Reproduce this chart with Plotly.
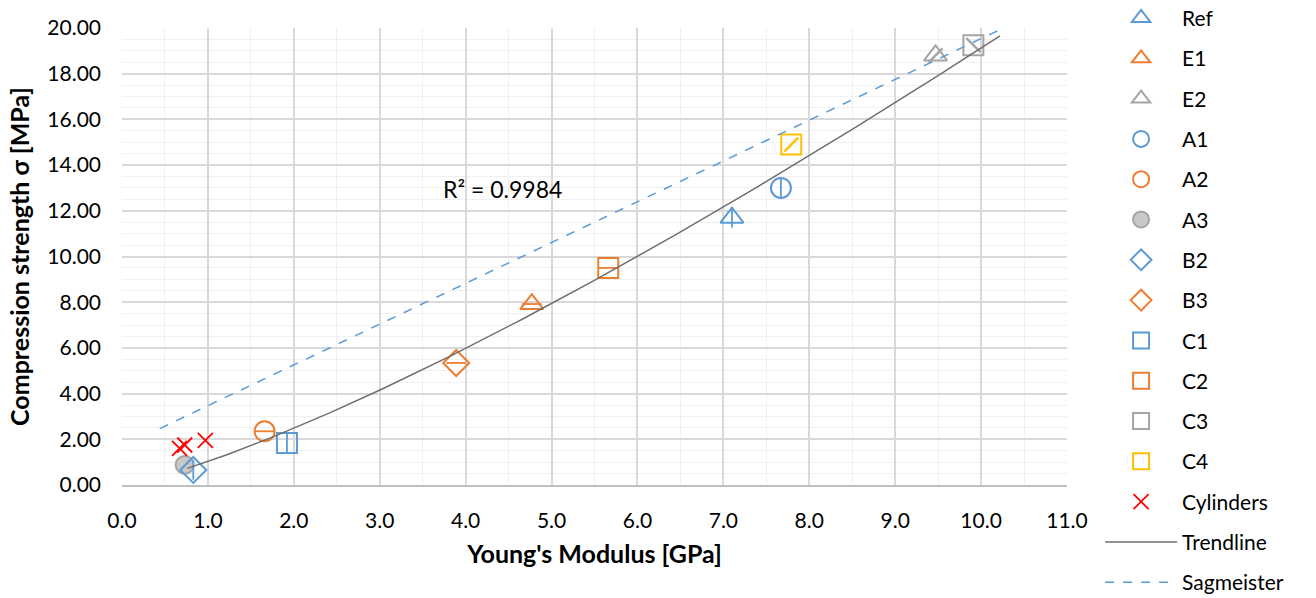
import numpy as np
import plotly.graph_objects as go

# Specimen results: Young's modulus [GPa] vs compression strength [MPa]
series_names = ["Ref", "E1", "E2", "A1", "A2", "A3", "B2", "B3", "C1", "C2", "C3", "C4"]
modulus_gpa = [7.10, 4.77, 9.47, 7.67, 1.66, 0.73, 0.83, 3.89, 1.92, 5.66, 9.91, 7.79]
strength_mpa = [11.70, 7.92, 18.80, 13.00, 2.35, 0.88, 0.66, 5.34, 1.84, 9.50, 19.25, 14.90]

cyl_modulus = [0.67, 0.73, 0.97]
cyl_strength = [1.60, 1.75, 1.95]

# Sagmeister reference relation (end points)
sag_modulus = [0.44, 10.26]
sag_strength = [2.47, 20.0]

# Trendline extent
trend_range = [0.76, 10.22]
r2_label = "R² = 0.9984"

BLUE = "#5B9BD5"
ORANGE = "#ED7D31"
GRAY = "#A5A5A5"
GOLD = "#FFC000"
RED = "#FF0000"

# outer symbol, colour, inner stroke symbol (None = none), filled
styles = {
    "Ref": ("triangle-up-open", BLUE, "line-ns", False),
    "E1": ("triangle-up-open", ORANGE, "line-ew", False),
    "E2": ("triangle-up-open", GRAY, "line-ne", False),
    "A1": ("circle-open", BLUE, "line-ns", False),
    "A2": ("circle-open", ORANGE, "line-ew", False),
    "A3": ("circle", GRAY, None, True),
    "B2": ("diamond-open", BLUE, "line-ns", False),
    "B3": ("diamond-open", ORANGE, "line-ew", False),
    "C1": ("square-open", BLUE, "line-ns", False),
    "C2": ("square-open", ORANGE, "line-ew", False),
    "C3": ("square-open", GRAY, "line-nw", False),
    "C4": ("square-open", GOLD, "line-ne", False),
}

FONT = "Lato"
fig = go.Figure()

for name, xv, yv in zip(series_names, modulus_gpa, strength_mpa):
    sym, col, inner, filled = styles[name]
    marker = dict(symbol=sym, size=20, color=col, line=dict(color=col, width=2))
    if filled:
        marker = dict(symbol=sym, size=18, color="#C8C8C8", line=dict(color=GRAY, width=2))
    fig.add_trace(go.Scatter(x=[xv], y=[yv], mode="markers", name=name,
                             legendgroup=name, marker=marker))
    if inner:
        fig.add_trace(go.Scatter(x=[xv], y=[yv], mode="markers", showlegend=False,
                                 legendgroup=name, hoverinfo="skip",
                                 marker=dict(symbol=inner, size=14, color=col,
                                             line=dict(color=col, width=2.5 if inner in ("line-ne", "line-nw") else 1.8))))

fig.add_trace(go.Scatter(x=cyl_modulus, y=cyl_strength, mode="markers", name="Cylinders",
                         legendgroup="Cylinders",
                         marker=dict(symbol="x-thin-open", size=15, color=RED,
                                     line=dict(color=RED, width=1.8))))

# Power-law trendline fitted to the specimen results
b, log_a = np.polyfit(np.log(modulus_gpa), np.log(strength_mpa), 1)
xt = np.linspace(trend_range[0], trend_range[1], 200)
yt = np.exp(log_a) * xt ** b
fig.add_trace(go.Scatter(x=xt, y=yt, mode="lines", name="Trendline", legendgroup="Trendline",
                         line=dict(color="#6E6E6E", width=1.5)))

fig.add_trace(go.Scatter(x=sag_modulus, y=sag_strength, mode="lines", name="Sagmeister",
                         legendgroup="Sagmeister",
                         line=dict(color=BLUE, width=1.5, dash="dash")))

fig.add_annotation(x=4.43, y=12.95, text=r2_label, showarrow=False,
                   font=dict(family=FONT, size=23, color="#000000"))

fig.update_layout(
    width=1316, height=598,
    margin=dict(l=122, r=249, t=28, b=113, autoexpand=False),
    paper_bgcolor="white", plot_bgcolor="white",
    font=dict(family=FONT, size=21, color="#000000"),
    legend=dict(x=1.035, y=1.066, xanchor="left", yanchor="top",
                tracegroupgap=10, font=dict(family=FONT, size=21),
                itemwidth=72, maxheight=800, bgcolor="rgba(0,0,0,0)"),
    showlegend=True,
)
fig.update_xaxes(range=[0, 11], dtick=1, tickformat=".1f",
                 showgrid=True, gridcolor="#D9D9D9", gridwidth=2,
                 minor=dict(dtick=0.5, showgrid=True, gridcolor="#F0F0F0", gridwidth=1),
                 showline=True, linecolor="#BFBFBF", linewidth=2,
                 zeroline=False, ticks="", ticklabelstandoff=16,
                 title=dict(text="<b>Young's Modulus [GPa]</b>", font=dict(family=FONT, size=25), standoff=14))
fig.update_yaxes(range=[0, 20], dtick=2, tickformat=".2f",
                 showgrid=True, gridcolor="#D9D9D9", gridwidth=2,
                 minor=dict(dtick=0.5, showgrid=True, gridcolor="#F0F0F0", gridwidth=1),
                 showline=False, zeroline=False, ticks="", ticklabelstandoff=20,
                 title=dict(text="<b>Compression strength σ [MPa]</b>", font=dict(family=FONT, size=25), standoff=10))

fig.write_html("out.html")
